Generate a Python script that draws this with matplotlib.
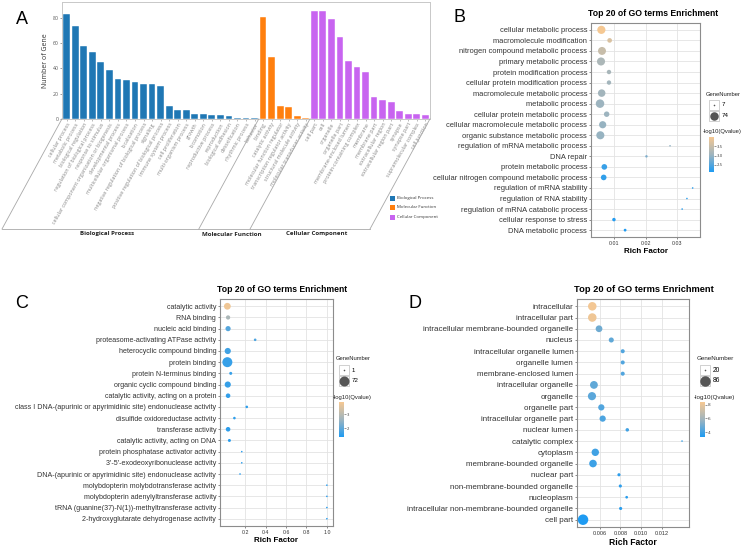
import matplotlib

matplotlib.use("Agg")
import matplotlib.pyplot as plt
import numpy as np
from matplotlib.cm import ScalarMappable
from matplotlib.colors import LinearSegmentedColormap, Normalize
from matplotlib.patches import Rectangle

W, H = 748, 546

# ---- Panel A: GO level-2 counts -------------------------------------------
bp_terms = [
    "cellular process", "metabolic process", "biological regulation",
    "regulation of biological process", "response to stimulus",
    "cellular component organization or biogenesis", "developmental process",
    "multicellular organismal process", "localization",
    "negative regulation of biological process", "signaling",
    "positive regulation of biological process", "immune system process",
    "cell proliferation", "multi-organism process", "growth", "locomotion",
    "reproductive process", "reproduction", "biological adhesion",
    "detoxification", "rhythmic process", "behavior",
]
bp_counts = [83, 74, 58, 53, 45, 39, 32, 31, 29, 28, 28, 26, 10, 7, 7, 4, 4, 3, 3, 2, 1, 1, 1]
mf_terms = [
    "binding", "catalytic activity", "molecular function regulator",
    "transcription regulator activity", "structural molecule activity",
    "molecular transducer activity",
]
mf_counts = [81, 49, 10, 9, 2, 1]
cc_terms = [
    "cell part", "cell", "organelle", "organelle part", "membrane-enclosed lumen",
    "protein-containing complex", "membrane", "membrane part",
    "extracellular region", "extracellular region part", "synapse",
    "synapse part", "supramolecular complex", "cell junction",
]
cc_counts = [86, 86, 79, 65, 46, 41, 37, 17, 15, 13, 6, 4, 4, 3]
group_names = ["Biological Process", "Molecular Function", "Cellular Component"]
group_colors = ["#1F77B4", "#FF7F0E", "#C864F0"]

# ---- Panel B: biological process enrichment --------------------------------
b_terms = [
    "cellular metabolic process", "macromolecule modification",
    "nitrogen compound metabolic process", "primary metabolic process",
    "protein modification process", "cellular protein modification process",
    "macromolecule metabolic process", "metabolic process",
    "cellular protein metabolic process", "cellular macromolecule metabolic process",
    "organic substance metabolic process", "regulation of mRNA metabolic process",
    "DNA repair", "protein metabolic process",
    "cellular nitrogen compound metabolic process", "regulation of mRNA stability",
    "regulation of RNA stability", "regulation of mRNA catabolic process",
    "cellular response to stress", "DNA metabolic process",
]
b_rich = [0.00615, 0.00875, 0.00635, 0.00604, 0.00854, 0.00854, 0.00625, 0.00573,
          0.00781, 0.00656, 0.00583, 0.0277, 0.0203, 0.00708, 0.00688, 0.0348,
          0.0330, 0.0315, 0.0101, 0.0136]
b_genes = [68, 20, 64, 66, 18, 18, 56, 74, 28, 51, 66, 7, 8, 30, 30, 7, 7, 7, 12, 9]
b_qval = [4.0, 3.7, 3.5, 3.2, 3.15, 3.1, 3.1, 3.05, 3.05, 3.0, 3.0, 2.95, 2.8,
          2.3, 2.25, 2.2, 2.2, 2.2, 2.15, 2.12]

# ---- Panel C: molecular function enrichment --------------------------------
c_terms = [
    "catalytic activity", "RNA binding", "nucleic acid binding",
    "proteasome-activating ATPase activity", "heterocyclic compound binding",
    "protein binding", "protein N-terminus binding", "organic cyclic compound binding",
    "catalytic activity, acting on a protein",
    "class I DNA-(apurinic or apyrimidinic site) endonuclease activity",
    "disulfide oxidoreductase activity", "transferase activity",
    "catalytic activity, acting on DNA", "protein phosphatase activator activity",
    "3'-5'-exodeoxyribonuclease activity",
    "DNA-(apurinic or apyrimidinic site) endonuclease activity",
    "molybdopterin molybdotransferase activity",
    "molybdopterin adenylyltransferase activity",
    "tRNA (guanine(37)-N(1))-methyltransferase activity",
    "2-hydroxyglutarate dehydrogenase activity",
]
c_rich = [0.026, 0.033, 0.033, 0.298, 0.03, 0.026, 0.059, 0.03, 0.033, 0.216,
          0.095, 0.033, 0.046, 0.167, 0.167, 0.15, 1.0, 1.0, 1.0, 1.0]
c_genes = [28, 8, 14, 2, 22, 72, 3, 22, 10, 2, 2, 10, 3, 1, 1, 1, 1, 1, 1, 1]
c_qval = [3.8, 2.8, 1.9, 1.8, 1.7, 1.6, 1.6, 1.6, 1.55, 1.5, 1.5, 1.5, 1.45,
          1.45, 1.45, 1.4, 1.4, 1.4, 1.4, 1.4]

# ---- Panel D: cellular component enrichment --------------------------------
d_terms = [
    "intracellular", "intracellular part", "intracellular membrane-bounded organelle",
    "nucleus", "intracellular organelle lumen", "organelle lumen",
    "membrane-enclosed lumen", "intracellular organelle", "organelle",
    "organelle part", "intracellular organelle part", "nuclear lumen",
    "catalytic complex", "cytoplasm", "membrane-bounded organelle", "nuclear part",
    "non-membrane-bounded organelle", "nucleoplasm",
    "intracellular non-membrane-bounded organelle", "cell part",
]
d_rich = [0.00529, 0.00529, 0.00594, 0.00712, 0.00822, 0.00822, 0.00822, 0.00545,
          0.00526, 0.00616, 0.00629, 0.00866, 0.01393, 0.00558, 0.00536, 0.00786,
          0.00799, 0.0086, 0.00802, 0.0044]
d_genes = [60, 60, 42, 30, 25, 25, 25, 52, 56, 38, 38, 23, 20, 48, 50, 22, 22, 21, 22, 86]
d_qval = [8.3, 8.2, 4.9, 4.6, 4.3, 4.3, 4.3, 4.6, 4.5, 4.3, 4.2, 4.0, 3.9, 4.0,
          3.9, 3.6, 3.6, 3.5, 3.5, 3.3]

GG_FONT = ["Liberation Sans", "DejaVu Sans"]
A_FONT = ["Open Sans", "DejaVu Sans"]
cmap = LinearSegmentedColormap.from_list("go", ["#1E9BF2", "#9FB4BE", "#F6C892"])

fig = plt.figure(figsize=(W / 100, H / 100), dpi=100)


def box(x0, y0, x1, y1):
    """Pixel box (top-left origin) -> figure fraction rect."""
    return [x0 / W, 1 - y1 / H, (x1 - x0) / W, (y1 - y0) / H]


# overlay in pixel coordinates for letters, frames and legends
over = fig.add_axes([0, 0, 1, 1], zorder=5)
over.set_xlim(0, W)
over.set_ylim(H, 0)
over.axis("off")

# ---------------------------------------------------------------- panel A
a_box = (62, 1.8, 430, 118.8)
ax = fig.add_axes(box(*a_box))
terms = bp_terms + mf_terms + cc_terms
counts = bp_counts + mf_counts + cc_counts
colors = ([group_colors[0]] * len(bp_terms) + [group_colors[1]] * len(mf_terms)
          + [group_colors[2]] * len(cc_terms))
xpos = np.arange(len(terms))
ax.bar(xpos, counts, width=0.8, color=colors, edgecolor="white", linewidth=0.3)
xlo, xhi = -0.55, len(terms) - 0.45
ax.set_xlim(xlo, xhi)
ax.set_ylim(0, 93)
ax.set_yticks([0, 20, 40, 60, 80])
ax.set_xticks(xpos)
ax.set_xticklabels(terms, rotation=60, ha="right", va="top", rotation_mode="anchor",
                   fontsize=3.9, color="#3A3A3A", family=A_FONT)
ax.tick_params(axis="y", labelsize=3.7, colors="#555555", length=1.5, width=0.4, pad=1)
ax.tick_params(axis="x", length=1.2, width=0.4, pad=1, colors="#888888")
for lab in ax.get_yticklabels():
    lab.set_family(A_FONT)
for s in ax.spines.values():
    s.set_color("#C8C8C8")
    s.set_linewidth(0.7)
ax.set_ylabel("Number of Gene", fontsize=5.0, family=A_FONT, color="#333333", labelpad=2.5)

# slanted "3D" base with group separators
def a_px(i):
    return a_box[0] + (i - xlo) / (xhi - xlo) * (a_box[2] - a_box[0])

base_top, base_bot = a_box[3], 229
shift = 60
edges = [xlo, len(bp_terms) - 0.5, len(bp_terms) + len(mf_terms) - 0.5, xhi]
for e in edges:
    xt = a_px(e)
    over.plot([xt, xt - shift], [base_top, base_bot], color="#A8A8A8", lw=0.6)
over.plot([a_px(xlo) - shift, a_px(xhi) - shift], [base_bot, base_bot], color="#A8A8A8", lw=0.6)
for g, name in enumerate(group_names):
    xc = (a_px(edges[g]) + a_px(edges[g + 1])) / 2 - shift + 7
    over.text(xc, base_bot + 5, name, ha="center", va="center", fontsize=4.4,
              fontweight="bold", family=A_FONT, color="#222222")
for g, name in enumerate(group_names):
    y = 198 + g * 9.5
    over.add_patch(Rectangle((390, y - 2.5), 5, 5, color=group_colors[g], lw=0))
    over.text(397.5, y, name, fontsize=3.2, va="center", family=A_FONT, color="#333333")
over.text(22, 20, "A", fontsize=13, ha="center", va="center", family=GG_FONT)


# ---------------------------------------------------------------- bubbles
def bubble_panel(pbox, terms, rich, genes, qval, xlim, xticks, xfmt, vlim, cticks, cfmt,
                 dmax, label_size, scale, letter, letter_xy, legend_xy, clip_x=None):
    ax = fig.add_axes(box(*pbox))
    n = len(terms)
    gmin, gmax = min(genes), max(genes)

    def dia(g):
        return 1.6 + (dmax - 1.6) * np.sqrt((np.asarray(g, float) - gmin) / (gmax - gmin))

    norm = Normalize(vmin=vlim[0], vmax=vlim[1])
    ypos = np.arange(n)
    ax.scatter(rich, ypos, s=(dia(genes) * 0.72) ** 2, c=qval, cmap=cmap, norm=norm,
               linewidths=0, zorder=3)
    ax.set_xlim(*xlim)
    ax.set_ylim(n - 0.35, -0.65)
    ax.set_yticks(ypos)
    ax.set_yticklabels(terms, fontsize=label_size, color="#222222", family=GG_FONT)
    ax.set_xticks(xticks)
    ax.set_xticklabels([xfmt.format(v) for v in xticks], fontsize=3.8 * scale,
                       color="#4D4D4D", family=GG_FONT)
    ax.tick_params(axis="both", length=1.5, width=0.4, pad=1.2, colors="#333333")
    ax.grid(True, color="#E3E3E3", lw=0.6, zorder=0)
    ax.set_axisbelow(True)
    for s in ax.spines.values():
        s.set_color("#8C8C8C")
        s.set_linewidth(0.8)
    ax.set_xlabel("Rich Factor", fontsize=5.8 * scale, fontweight="bold", family=GG_FONT,
                  labelpad=1.5)
    over.text(pbox[0] - 3, pbox[1] - 10, "Top 20 of GO terms Enrichment",
              fontsize=6.2 * scale, fontweight="bold", family=GG_FONT, va="center",
              ha="left")
    over.text(letter_xy[0], letter_xy[1], letter, fontsize=13, ha="center", va="center",
              family=GG_FONT)

    # legend: GeneNumber keys + colour bar
    clip = None
    if clip_x is not None:
        clip = Rectangle((0, 0), clip_x, H, transform=over.transData)
    lx, ly = legend_xy
    txts = [over.text(lx, ly, "GeneNumber", fontsize=4.2 * scale, va="center",
                      family=GG_FONT, color="#222222")]
    for k, g in enumerate([gmin, gmax]):
        yk = ly + 11 + k * 10.5
        over.add_patch(Rectangle((lx + 3, yk - 5), 10, 10, fill=False, ec="#BDBDBD", lw=0.5))
        over.scatter([lx + 8], [yk], s=(dia(g) * 0.72) ** 2, color="#555555", lw=0)
        txts.append(over.text(lx + 16, yk, str(g), fontsize=4.4 * scale, va="center",
                              family=GG_FONT))
    txts.append(over.text(lx - 3, ly + 38, "-log10(Qvalue)", fontsize=4.2 * scale,
                          va="center", family=GG_FONT, color="#222222"))
    if clip is not None:
        for t in txts:
            t.set_clip_path(clip)
    cax = fig.add_axes(box(lx + 3, ly + 43, lx + 8, ly + 78))
    cb = fig.colorbar(ScalarMappable(norm=norm, cmap=cmap), cax=cax)
    cb.outline.set_visible(False)
    cb.set_ticks(cticks)
    cb.set_ticklabels([cfmt.format(v) for v in cticks])
    cax.tick_params(labelsize=2.8 * scale, length=1.2, width=0.4, pad=1, colors="#444444")


bubble_panel((591, 23, 700, 237), b_terms, b_rich, b_genes, b_qval,
             (0.0029, 0.0371), [0.01, 0.02, 0.03], "{:.2f}", (2.1, 4.02),
             [2.5, 3.0, 3.5], "{:.1f}", 8.5, 5.4, 1.0, "B", (460, 18), (706, 94))
bubble_panel((220, 299, 333, 526), c_terms, c_rich, c_genes, c_qval,
             (-0.046, 1.06), [0.2, 0.4, 0.6, 0.8, 1.0], "{:.1f}", (1.35, 3.9),
             [2, 3], "{:.0f}", 10, 5.1, 1.0, "C", (22, 303), (336, 359), clip_x=375)
bubble_panel((577, 299, 689, 527), d_terms, d_rich, d_genes, d_qval,
             (0.00382, 0.0146), [0.006, 0.008, 0.010, 0.012], "{:.3f}", (3.3, 8.4),
             [4, 6, 8], "{:.0f}", 10.5, 5.8, 1.08, "D", (415, 303), (697, 359))

fig.savefig("out.png", dpi=100)
